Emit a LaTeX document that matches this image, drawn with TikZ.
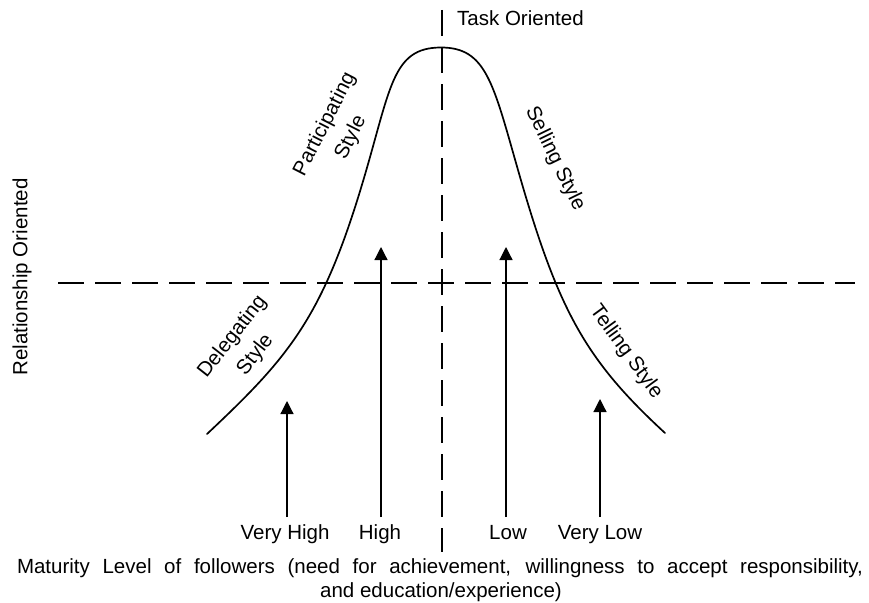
\documentclass[tikz,border=0pt]{standalone}
\usepackage{fontspec}
\setmainfont{Liberation Sans}
\usetikzlibrary{arrows.meta}

\tikzset{
  lbl/.style={inner sep=0pt, font=\fontsize{20.5}{24.5}\selectfont},
  twoline/.style={lbl, align=center, font=\fontsize{20.5}{29}\selectfont},
  axisline/.style={line width=2.4pt, dash pattern=on 26pt off 11pt},
  bellcurve/.style={line width=1.7pt, line join=round, line cap=round},
  levelarrow/.style={line width=1.2pt, -{Triangle[width=13pt,length=13pt]}},
}

\begin{document}
\begin{tikzpicture}[x=1pt, y=-1pt]
  \useasboundingbox (0,0) rectangle (869,602);

  % axes
  \coordinate (vTop) at (442,10);
  \coordinate (vBot) at (442,552);
  \coordinate (hLeft) at (58,283);
  \coordinate (hRight) at (855,283);
  \draw[axisline] (vTop) -- (vBot);
  \draw[axisline] (hLeft) -- (hRight);

  % leadership curve: tail, inflection, peak, inflection, tail
  \coordinate (tailL) at (207,434);
  \coordinate (bendL) at (361,188);
  \coordinate (peak) at (441,47.5);
  \coordinate (bendR) at (518,170);
  \coordinate (tailR) at (665,433);
  \draw[bellcurve] (tailL) .. controls (287,358.8) and (321,320) .. (bendL)
    .. controls (391,89) and (391,47.5) .. (peak)
    .. controls (486,47.5) and (493,82.5) .. (bendR)
    .. controls (558,310) and (585,359.4) .. (tailR);

  % axis titles
  \node[lbl, anchor=base west] (task) at (457,26) {Task Oriented};
  \node[lbl, rotate=90] (relation) at (22,277) {Relationship Oriented};

  % style labels along the curve
  \node[twoline, rotate=63] (participating) at (338,131) {Participating\\Style};
  \node[lbl, rotate=-64] (selling) at (555,159) {Selling Style};
  \node[twoline, rotate=52] (delegating) at (244,346) {Delegating\\Style};
  \node[lbl, rotate=-54] (telling) at (626,352) {Telling Style};

  % maturity levels
  \node[lbl, anchor=base] (veryHigh) at (285,539) {Very High};
  \node[lbl, anchor=base] (high) at (380,539) {High};
  \node[lbl, anchor=base] (low) at (508,539) {Low};
  \node[lbl, anchor=base] (veryLow) at (600,539) {Very Low};

  \coordinate (vhTail) at (287,517);  \coordinate (vhTip) at (287,401);
  \coordinate (hTail) at (381,517);   \coordinate (hTip) at (381,247);
  \coordinate (lTail) at (506,517);   \coordinate (lTip) at (506,247);
  \coordinate (vlTail) at (600,517);  \coordinate (vlTip) at (600,399);
  \draw[levelarrow] (vhTail) -- (vhTip);
  \draw[levelarrow] (hTail) -- (hTip);
  \draw[levelarrow] (lTail) -- (lTip);
  \draw[levelarrow] (vlTail) -- (vlTip);

  % caption
  \node[lbl, anchor=base] (capA) at (440,573)
    {\makebox[846pt][s]{Maturity Level of followers (need for achievement, willingness to accept responsibility,}};
  \node[lbl, anchor=base] (capB) at (441,597) {and education/experience)};
\end{tikzpicture}
\end{document}
